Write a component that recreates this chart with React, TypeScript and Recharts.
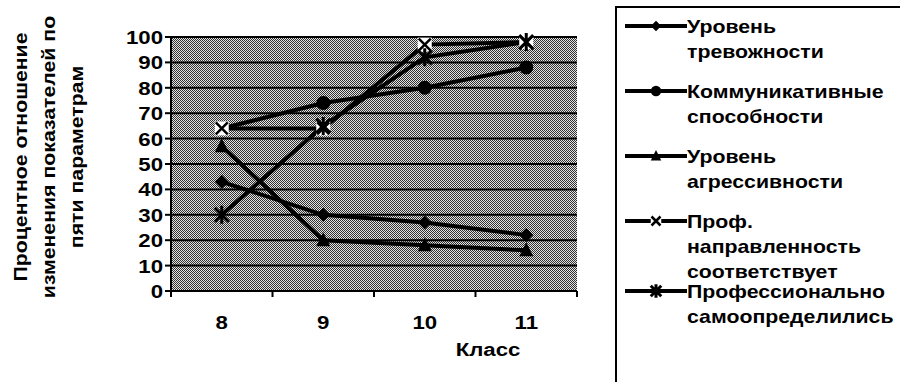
import { LineChart, Line, XAxis, YAxis, CartesianGrid, Label } from "recharts";

const classes = [8, 9, 10, 11];
const anxiety = [43, 30, 27, 22];
const communication = [64, 74, 80, 88];
const aggression = [57, 20, 18, 16];
const profOrientation = [64, 64, 97, 98];
const selfDetermined = [30, 65, 92, 98];

const yTicks = [0, 10, 20, 30, 40, 50, 60, 70, 80, 90, 100];
const xTicks = [7.5, 8, 8.5, 9, 9.5, 10, 10.5, 11, 11.5];

const yTitle = ["Процентное отношение", "изменения показателей по", "пяти параметрам"];

const data = classes.map((cls, i) => ({
  cls,
  anxiety: anxiety[i],
  communication: communication[i],
  aggression: aggression[i],
  profOrientation: profOrientation[i],
  selfDetermined: selfDetermined[i],
}));

const font = "'Liberation Sans', Arial, sans-serif";
// the scanned original is a bit wider than it is tall
const stretch = 1.17;
const legendStretch = 1.12;

type DotProps = { cx?: number; cy?: number; s?: number };

const Diamond = ({ cx = 0, cy = 0, s = 1 }: DotProps) => (
  <polygon points={`${cx},${cy - 7 * s} ${cx + 7 * s},${cy} ${cx},${cy + 7 * s} ${cx - 7 * s},${cy}`} fill="#000" />
);
const Circle = ({ cx = 0, cy = 0, s = 1 }: DotProps) => <circle cx={cx} cy={cy} r={7 * s} fill="#000" />;
const Triangle = ({ cx = 0, cy = 0, s = 1 }: DotProps) => (
  <polygon points={`${cx},${cy - 8 * s} ${cx + 7 * s},${cy + 6 * s} ${cx - 7 * s},${cy + 6 * s}`} fill="#000" />
);
const Cross = ({ cx = 0, cy = 0, s = 1 }: DotProps) => (
  <g>
    <rect x={cx - 7 * s} y={cy - 7 * s} width={14 * s} height={14 * s} fill="#fff" />
    <path
      d={`M${cx - 6 * s},${cy - 6 * s}L${cx + 6 * s},${cy + 6 * s}M${cx + 6 * s},${cy - 6 * s}L${cx - 6 * s},${cy + 6 * s}`}
      stroke="#000"
      strokeWidth={2.5}
    />
  </g>
);
const Star = ({ cx = 0, cy = 0, s = 1 }: DotProps) => (
  <path
    d={`M${cx - 7 * s},${cy - 7 * s}L${cx + 7 * s},${cy + 7 * s}M${cx + 7 * s},${cy - 7 * s}L${cx - 7 * s},${cy + 7 * s}M${cx},${cy - 9 * s}L${cx},${cy + 9 * s}`}
    stroke="#000"
    strokeWidth={3}
  />
);

const series = [
  { key: "anxiety", name: "Уровень тревожности", lines: ["Уровень", "тревожности"], Dot: Diamond },
  { key: "communication", name: "Коммуникативные способности", lines: ["Коммуникативные", "способности"], Dot: Circle },
  { key: "aggression", name: "Уровень агрессивности", lines: ["Уровень", "агрессивности"], Dot: Triangle },
  {
    key: "profOrientation",
    name: "Проф. направленность соответствует",
    lines: ["Проф.", "направленность", "соответствует"],
    Dot: Cross,
  },
  { key: "selfDetermined", name: "Профессионально самоопределились", lines: ["Профессионально", "самоопределились"], Dot: Star },
];

const legendTops = [6, 71, 136, 201, 271];

const WideText = ({ x, y, anchor, children }: any) => (
  <text
    transform={`translate(${x},${y}) scale(${stretch},1)`}
    textAnchor={anchor}
    fontFamily={font}
    fontWeight="bold"
    fontSize={19}
    fill="#000"
  >
    {children}
  </text>
);

const XTick = ({ x = 0, y = 0, payload }: any) => {
  const v = payload?.value as number;
  if (v % 1 !== 0) {
    return <line x1={x} x2={x} y1={y} y2={y + 6} stroke="#000" strokeWidth={2} />;
  }
  return (
    <WideText x={x} y={y + 38} anchor="middle">
      {v}
    </WideText>
  );
};

const YTick = ({ x = 0, y = 0, payload }: any) => (
  <WideText x={x} y={y + 7} anchor="end">
    {payload?.value}
  </WideText>
);

const YTitle = () => (
  <g>
    {yTitle.map((t, i) => (
      <text
        key={t}
        transform={`translate(${27 + i * 28},157) rotate(-90) scale(1.12,1)`}
        textAnchor="middle"
        fontFamily={font}
        fontWeight="bold"
        fontSize={19}
        fill="#000"
      >
        {t}
      </text>
    ))}
  </g>
);

export default function App() {
  return (
    <div style={{ position: "absolute", left: 0, top: 0, width: 900, height: 382, background: "#fff", overflow: "hidden" }}>
      <LineChart width={900} height={382} data={data} margin={{ top: 37, right: 323, bottom: 0, left: 0 }}>
        <defs>
          <pattern id="dither" width={2} height={2} patternUnits="userSpaceOnUse">
            <rect width={2} height={2} fill="#e4e4e4" />
            <rect width={1} height={1} fill="#303030" />
            <rect x={1} y={1} width={1} height={1} fill="#303030" />
          </pattern>
        </defs>
        <CartesianGrid vertical={false} stroke="#000" strokeWidth={2} fill="url(#dither)" fillOpacity={1} />
        <XAxis
          dataKey="cls"
          type="number"
          domain={[7.5, 11.5]}
          ticks={xTicks}
          interval={0}
          tick={<XTick />}
          tickLine={false}
          tickSize={0}
          tickMargin={0}
          height={91}
          axisLine={{ stroke: "#000", strokeWidth: 2 }}
        >
          <Label
            content={() => (
              <WideText x={488} y={356} anchor="middle">
                Класс
              </WideText>
            )}
          />
        </XAxis>
        <YAxis
          domain={[0, 100]}
          ticks={yTicks}
          interval={0}
          width={171}
          tickSize={6}
          tickMargin={2}
          tickLine={{ stroke: "#000", strokeWidth: 2 }}
          axisLine={{ stroke: "#000", strokeWidth: 2 }}
          tick={<YTick />}
        >
          <Label content={() => <YTitle />} />
        </YAxis>
        <YAxis yAxisId="r" orientation="right" width={0} tick={false} tickLine={false} axisLine={{ stroke: "#000", strokeWidth: 2 }} />
        {series.map((s) => (
          <Line
            key={s.key}
            dataKey={s.key}
            name={s.name}
            stroke="#000"
            strokeWidth={4}
            dot={(p: any) => <s.Dot key={`${s.key}-${p.index}`} cx={p.cx} cy={p.cy} />}
            activeDot={false}
            isAnimationActive={false}
          />
        ))}
      </LineChart>
      <div
        style={{
          position: "absolute",
          left: 615,
          top: 6,
          width: 320,
          height: 400,
          border: "2px solid #000",
          boxSizing: "border-box",
          fontFamily: font,
          fontWeight: "bold",
          fontSize: 19,
        }}
      >
        {series.map((s, i) => (
          <div key={s.key} style={{ position: "absolute", left: 8, top: legendTops[i] }}>
            <svg width={62} height={24} style={{ position: "absolute", left: 0, top: 0 }}>
              <line x1={0} x2={62} y1={12} y2={12} stroke="#000" strokeWidth={4} />
              <s.Dot cx={31} cy={12} s={0.75} />
            </svg>
            <div
              style={{
                position: "absolute",
                left: 62,
                top: 0,
                lineHeight: "25px",
                whiteSpace: "nowrap",
                transform: `scaleX(${legendStretch})`,
                transformOrigin: "0 0",
              }}
            >
              {s.lines.map((l) => (
                <div key={l}>{l}</div>
              ))}
            </div>
          </div>
        ))}
      </div>
    </div>
  );
}
